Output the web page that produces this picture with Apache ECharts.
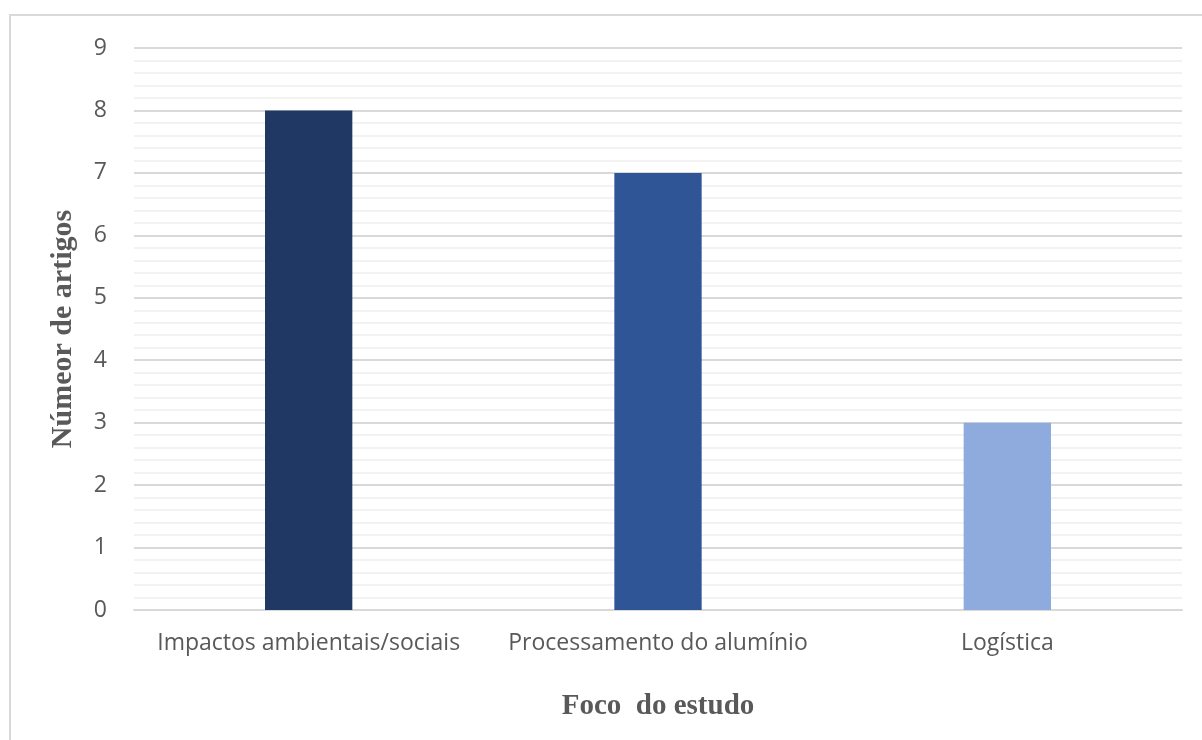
<!DOCTYPE html>
<html>
<head>
<meta charset="UTF-8">
<title>Foco do estudo</title>
<script src="https://cdn.jsdelivr.net/npm/echarts@6/dist/echarts.min.js"></script>
<style>
body,html{ padding:0px; margin:0px; background:#fff;}
#chart_box{ width:1202px; height:740px; }
</style>
</head>
<body>
<div id="chart_box"></div>
<script type="text/javascript">
// dados do gráfico
var categorias = ["Impactos ambientais/sociais", "Processamento do alumínio", "Logística"];
var artigos = [8, 7, 3];
var cores = ["#203864", "#2F5597", "#8FAADC"];

var myChart = echarts.init(document.getElementById('chart_box'));

var option = {
    animation: false,
    grid: { left: 134, right: 20, top: 48, bottom: 130 },
    graphic: [{
        type: 'polyline',
        shape: { points: [[10, 740], [10, 15], [1202, 15]] },
        style: { stroke: '#d9d9d9', lineWidth: 2, fill: null }
    }],
    xAxis: {
        type: 'category',
        data: categorias,
        name: 'Foco  do estudo',
        nameLocation: 'middle',
        nameGap: 82,
        nameTextStyle: { fontFamily: 'Liberation Serif', fontWeight: 'bold', fontSize: 29, color: '#595959' },
        axisLine: { show: true, lineStyle: { color: '#d9d9d9', width: 2 } },
        axisTick: { show: false },
        axisLabel: { interval: 0, hideOverlap: false, fontFamily: 'Open Sans', fontSize: 23, color: '#595959', margin: 22 }
    },
    yAxis: {
        type: 'value',
        min: 0, max: 9, interval: 1,
        name: 'Númeor de artigos',
        nameLocation: 'middle',
        nameGap: 56,
        nameTextStyle: { fontFamily: 'Liberation Serif', fontWeight: 'bold', fontSize: 30, color: '#595959' },
        axisLine: { show: false },
        axisTick: { show: false },
        axisLabel: { fontFamily: 'Open Sans', fontSize: 23, color: '#595959', margin: 27 },
        splitLine: { lineStyle: { color: '#d9d9d9', width: 2 } },
        minorTick: { show: false, splitNumber: 5 },
        minorSplitLine: { show: true, lineStyle: { color: '#f2f2f2', width: 2 } }
    },
    series: [{
        type: 'bar',
        barWidth: '25%',
        data: artigos.map(function (v, i) {
            return { value: v, itemStyle: { color: cores[i] } };
        })
    }]
};

myChart.setOption(option);
</script>
</body>
</html>
